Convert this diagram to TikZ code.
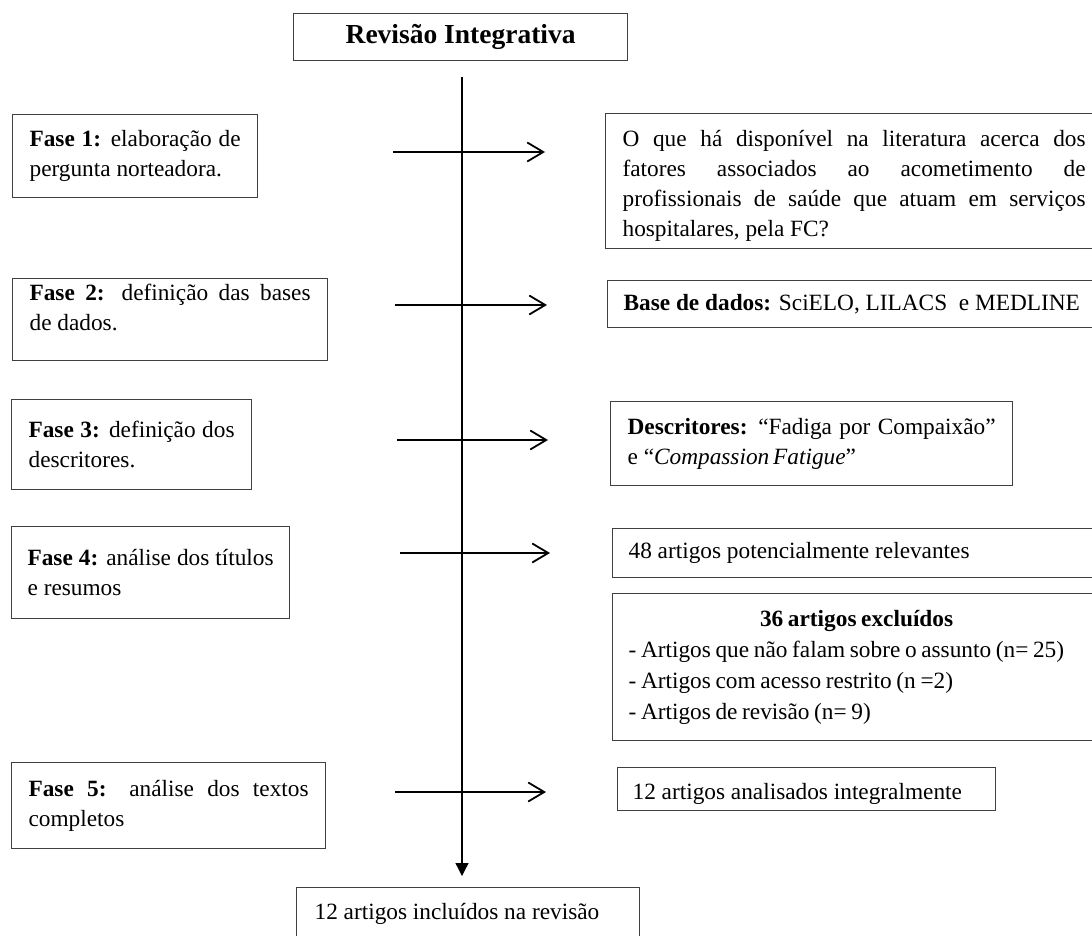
\documentclass[tikz,border=0pt]{standalone}
\usepackage{fontspec}
\setmainfont{Liberation Serif}
\usetikzlibrary{arrows.meta}
\tolerance=10000
\hbadness=10000
\hyphenpenalty=10000
\newcommand{\tightsp}{\spaceskip=0.2em plus 0.05em\relax}
\tikzset{
  box/.style={draw=black!75, line width=1.2pt, inner xsep=17pt, inner ysep=0pt,
    anchor=north west, align=justify, font=\fontsize{23.3}{30}\selectfont},
  flow/.style={line width=1.8pt, -{Straight Barb[length=16pt,width=19pt]}},
  mainline/.style={line width=1.3pt, -{Triangle[length=13pt,width=13pt]}},
}
\begin{document}
\begin{tikzpicture}[x=1pt,y=-1pt]
\useasboundingbox (0,0) rectangle (1092,936);
\clip (0,0) rectangle (1092,936);

% title
\node[box, align=center, inner xsep=0pt, minimum width=334pt, minimum height=47pt,
  font=\fontsize{27.5}{33}\selectfont\bfseries] (title) at (293,13) {Revisão Integrativa};

% left column
\node[box, text width=211pt, minimum height=83pt] (f1) at (12,114)
  {\textbf{Fase 1:} elaboração de\linebreak pergunta norteadora.};
\node[box, text width=281pt, minimum height=82pt, text depth=54pt] (f2) at (12,278)
  {\textbf{Fase 2:} definição das bases\linebreak de dados.};
\node[box, text width=206pt, minimum height=90pt] (f3) at (11,399)
  {\textbf{Fase 3:} definição dos\linebreak descritores.};
\node[box, inner xsep=16pt, text width=246pt, minimum height=92pt] (f4) at (11,526)
  {\textbf{Fase 4:} análise dos títulos\linebreak e resumos};
\node[box, text width=280pt, minimum height=86pt] (f5) at (11,762)
  {\textbf{Fase 5:} análise dos textos\linebreak completos};

% right column
\node[box, text width=463pt, minimum height=135pt, text height=26pt] (r1) at (605,113)
  {O que há disponível na literatura acerca dos\linebreak fatores associados ao acometimento de\linebreak profissionais de saúde que atuam em serviços\linebreak hospitalares, pela FC?};
\node[box, inner xsep=16pt, text width=461pt, minimum height=47pt] (r2) at (607,280)
  {\textbf{Base de dados:} SciELO, LILACS\ \ e MEDLINE};
\node[box, text width=368pt, minimum height=84pt] (r3) at (610,401)
  {\textbf{Descritores:} “Fadiga por Compaixão”\linebreak e “\textit{Compassion\,Fatigue}”};
\node[box, inner xsep=16pt, text width=456pt, minimum height=49pt] (r4) at (612,528)
  {48 artigos potencialmente relevantes};
\node[box, inner xsep=16pt, text width=500pt, minimum height=147pt, align=left,
  font=\fontsize{23.3}{31}\selectfont] (r5) at (612,593)
  {\tightsp\makebox[456pt]{\textbf{36 artigos excluídos}}\\
   - Artigos que não falam sobre o assunto (n= 25)\\
   - Artigos com acesso restrito (n =2)\\
   - Artigos de revisão (n= 9)};
\node[box, inner xsep=15pt, text width=348pt, minimum height=43pt, text height=26pt] (r6) at (617,767)
  {12 artigos analisados integralmente};

% final box
\node[box, inner xsep=18pt, text width=307pt, minimum height=53pt] (fim) at (296,887)
  {12 artigos incluídos na revisão};

% main vertical line
\coordinate (vtop) at (462,77);
\coordinate (vbot) at (462,876);
\draw[mainline] (vtop) -- (vbot);

% horizontal arrows
\coordinate (a1s) at (393,152); \coordinate (a1e) at (545,152);
\coordinate (a2s) at (395,305); \coordinate (a2e) at (547,305);
\coordinate (a3s) at (397,440); \coordinate (a3e) at (548,440);
\coordinate (a4s) at (400,553); \coordinate (a4e) at (550,553);
\coordinate (a5s) at (395,792); \coordinate (a5e) at (546,792);
\draw[flow] (a1s) -- (a1e);
\draw[flow] (a2s) -- (a2e);
\draw[flow] (a3s) -- (a3e);
\draw[flow] (a4s) -- (a4e);
\draw[flow] (a5s) -- (a5e);
\end{tikzpicture}
\end{document}
